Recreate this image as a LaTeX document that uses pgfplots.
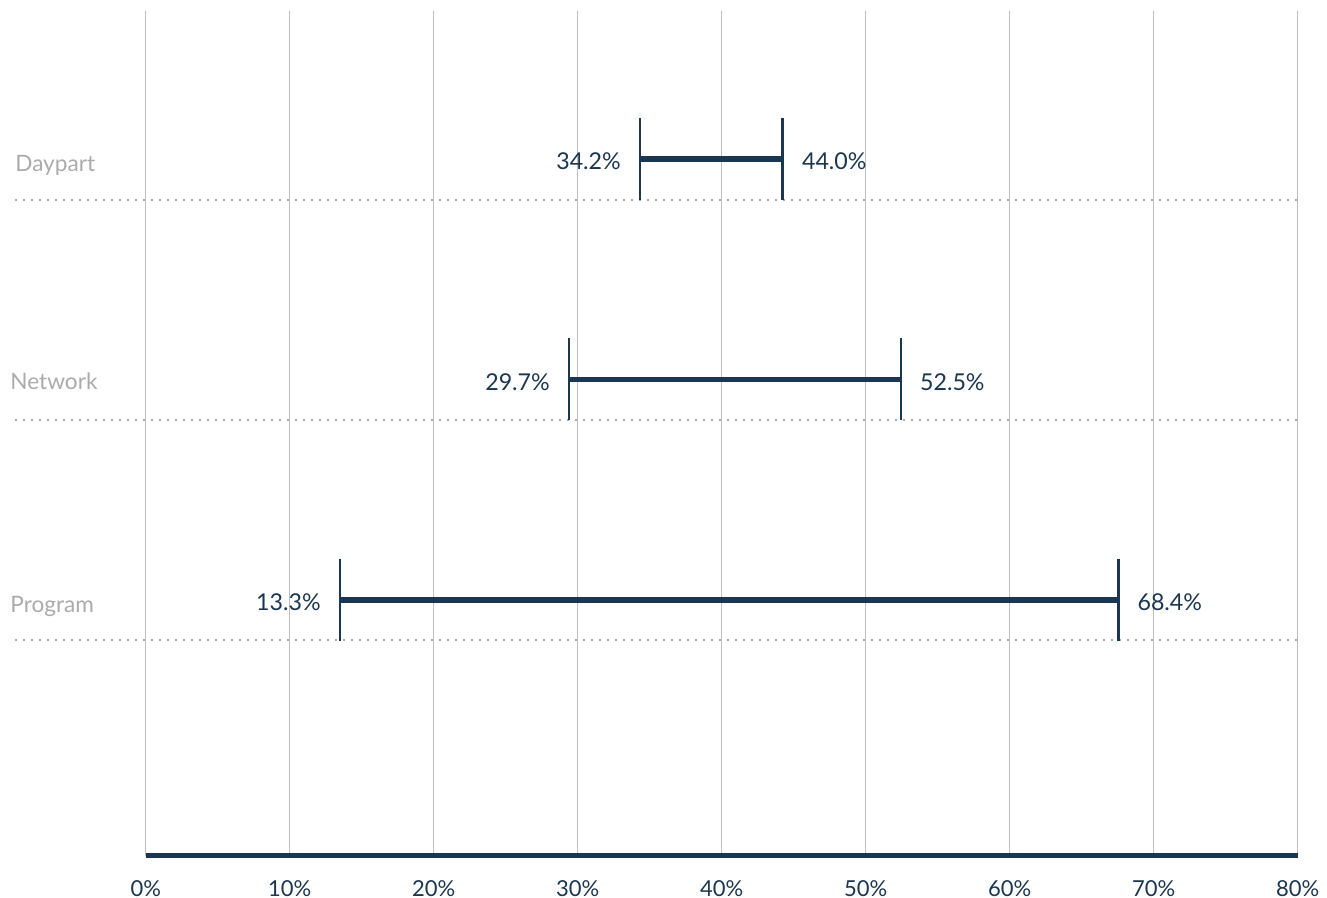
\documentclass[border=0pt]{standalone}
\usepackage{fontspec}
\setmainfont{Lato}
\usepackage{pgfplots}
\usepackage{pgfplotstable}
\pgfplotsset{compat=1.18}

\definecolor{navy}{HTML}{1B3650}
\definecolor{gridgray}{HTML}{BEBEBE}
\definecolor{catgray}{HTML}{ABABAB}
\definecolor{dotgray}{HTML}{ACACAC}

% row: 3 = Daypart, 2 = Network, 1 = Program
\pgfplotstableread{
cat lo    hi    lolab hilab
3   34.33 44.24 34.2  44.0
2   29.40 52.44 29.7  52.5
1   13.49 67.54 13.3  68.4
}\ranges

\begin{document}
\begin{tikzpicture}
\useasboundingbox (-72.85pt,-21pt) rectangle (590.65pt,428pt);
\begin{axis}[
  at={(0,0)}, anchor=south west,
  scale only axis, width=576pt, height=422.5pt,
  xmin=0, xmax=80, ymin=-0.161, ymax=3.671,
  axis x line=bottom, axis y line=none,
  x axis line style={-, draw=navy, line width=2.5pt},
  xtick={0,10,...,80}, ytick=\empty,
  major tick length=0pt,
  xmajorgrids, grid style={gridgray, line width=0.75pt},
  xticklabel={\pgfmathprintnumber{\tick}\%},
  xticklabel style={font=\fontsize{11}{13}\selectfont, text=navy, yshift=-8.5pt},
  /pgf/number format/assume math mode=true,
  clip=false,
]
% dotted row separators
\addplot[dotgray, line width=1pt, dash pattern=on 1pt off 3pt, forget plot] coordinates {(-9.08,2.814) (80.16,2.814)};
\addplot[dotgray, line width=1pt, dash pattern=on 1pt off 3pt, forget plot] coordinates {(-9.08,1.816) (80.16,1.816)};
\addplot[dotgray, line width=1pt, dash pattern=on 1pt off 3pt, forget plot] coordinates {(-9.08,0.819) (80.16,0.819)};

% ranges
\addplot[navy, line width=2.6pt] coordinates {(34.33,3) (44.24,3)};
\addplot[navy, line width=2.6pt] coordinates {(29.40,2) (52.44,2)};
\addplot[navy, line width=2.6pt] coordinates {(13.49,1) (67.54,1)};

% low ends
\addplot[only marks, navy, mark=|, mark size=20.5pt, mark options={line width=1.3pt},
  point meta=explicit symbolic,
  nodes near coords={\pgfplotspointmeta\%},
  nodes near coords style={anchor=base east, xshift=-9pt, yshift=-5.3pt, inner sep=0pt,
    text=navy, font=\fontsize{11.6}{14}\selectfont}]
  table[x=lo, y=cat, meta=lolab] {\ranges};
% high ends
\addplot[only marks, navy, mark=|, mark size=20.5pt, mark options={line width=1.3pt},
  point meta=explicit symbolic,
  nodes near coords={\pgfplotspointmeta\%},
  nodes near coords style={anchor=base west, xshift=9pt, yshift=-5.3pt, inner sep=0pt,
    text=navy, font=\fontsize{11.6}{14}\selectfont}]
  table[x=hi, y=cat, meta=hilab] {\ranges};

% category labels
\node[anchor=base west, inner sep=0pt, yshift=-6.5pt, text=catgray, font=\fontsize{11.3}{14}\selectfont] at (axis cs:-9.08,3) {Daypart};
\node[anchor=base west, inner sep=0pt, yshift=-5pt, text=catgray, font=\fontsize{11.3}{14}\selectfont] at (axis cs:-9.42,2) {Network};
\node[anchor=base west, inner sep=0pt, yshift=-6.5pt, text=catgray, font=\fontsize{11.3}{14}\selectfont] at (axis cs:-9.42,1) {Program};
\end{axis}
\end{tikzpicture}
\end{document}
